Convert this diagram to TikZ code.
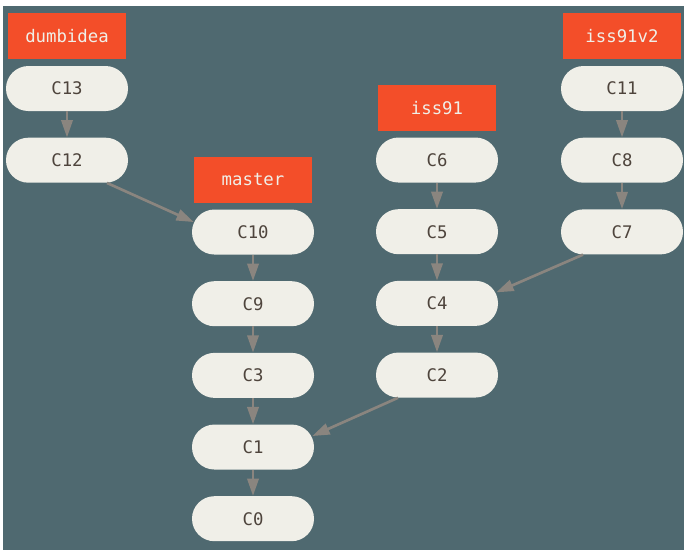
\documentclass[tikz,border=0pt]{standalone}
\usepackage{fontspec}
\setmonofont{DejaVu Sans Mono}
\usetikzlibrary{calc, positioning, arrows.meta}
\definecolor{bgcolor}{RGB}{79,105,112}
\definecolor{commitfill}{RGB}{240,239,232}
\definecolor{committext}{RGB}{78,68,60}
\definecolor{branchfill}{RGB}{243,78,41}
\definecolor{arrowgrey}{RGB}{138,133,127}

\begin{document}
\begin{tikzpicture}[x=0.75pt, y=0.75pt,
            commitnode/.style={rectangle, rounded corners=16.8pt, fill=commitfill, text=committext, minimum height=33.75pt, minimum width=91.5pt, inner sep=0pt, font=\ttfamily\fontsize{13}{14}\selectfont},
            branchnode/.style={rectangle, fill=branchfill, text=commitfill, minimum height=34.5pt, minimum width=88.5pt, inner sep=0pt, font=\ttfamily\fontsize{13}{14}\selectfont},
            parentline/.style={-{Triangle[length=13pt, width=8.5pt]}, draw=arrowgrey, line width=2pt},
            node distance=19.6pt
            ]
            \useasboundingbox (0,0) rectangle (684,550);
            \fill[bgcolor] (3,0) rectangle (684,544);

            %Nodes
            \node[branchnode]      (dumbidea)  at (67,513.5)               {dumbidea};
            \node[commitnode]      (c13)       [below=4.5pt of dumbidea]    {C13};
            \node[commitnode]      (c12)       [below=of c13]               {C12};

            \node[branchnode]      (master)    at (253,370)                 {master};
            \node[commitnode]      (c10)       [below=4.5pt of master]      {C10};
            \node[commitnode]      (c9)        [below=of c10]               {C9};
            \node[commitnode]      (c3)        [below=of c9]                {C3};
            \node[commitnode]      (c1)        [below=of c3]                {C1};
            \node[commitnode]      (c0)        [below=of c1]                {C0};

            \node[branchnode]      (iss91)     at (437,442)                 {iss91};
            \node[commitnode]      (c6)        [below=4.5pt of iss91]       {C6};
            \node[commitnode]      (c5)        [below=of c6]                {C5};
            \node[commitnode]      (c4)        [below=of c5]                {C4};
            \node[commitnode]      (c2)        [below=of c4]                {C2};

            \node[branchnode]      (iss91v2)   at (622,513.5)               {iss91v2};
            \node[commitnode]      (c11)       [below=4.5pt of iss91v2]     {C11};
            \node[commitnode]      (c8)        [below=of c11]               {C8};
            \node[commitnode]      (c7)        [below=of c8]                {C7};

            %Lines
            \draw[parentline] (c13.south) -- (c12.north);
            \draw[parentline] (c10.south) -- (c9.north);
            \draw[parentline] (c9.south) -- (c3.north);
            \draw[parentline] (c3.south) -- (c1.north);
            \draw[parentline] (c1.south) -- (c0.north);
            \draw[parentline] (c6.south) -- (c5.north);
            \draw[parentline] (c5.south) -- (c4.north);
            \draw[parentline] (c4.south) -- (c2.north);
            \draw[parentline] (c11.south) -- (c8.north);
            \draw[parentline] (c8.south) -- (c7.north);

            \draw[parentline] ($(c12.south)+(30pt,0)$) -- ($(c10.west)+(1.5pt,7.5pt)$);
            \draw[parentline] ($(c7.south)+(-29.25pt,0)$) -- ($(c4.east)+(-1.5pt,8.25pt)$);
            \draw[parentline] ($(c2.south)+(-29.25pt,0)$) -- ($(c1.east)+(-1.5pt,8.25pt)$);
          \end{tikzpicture}
\end{document}
